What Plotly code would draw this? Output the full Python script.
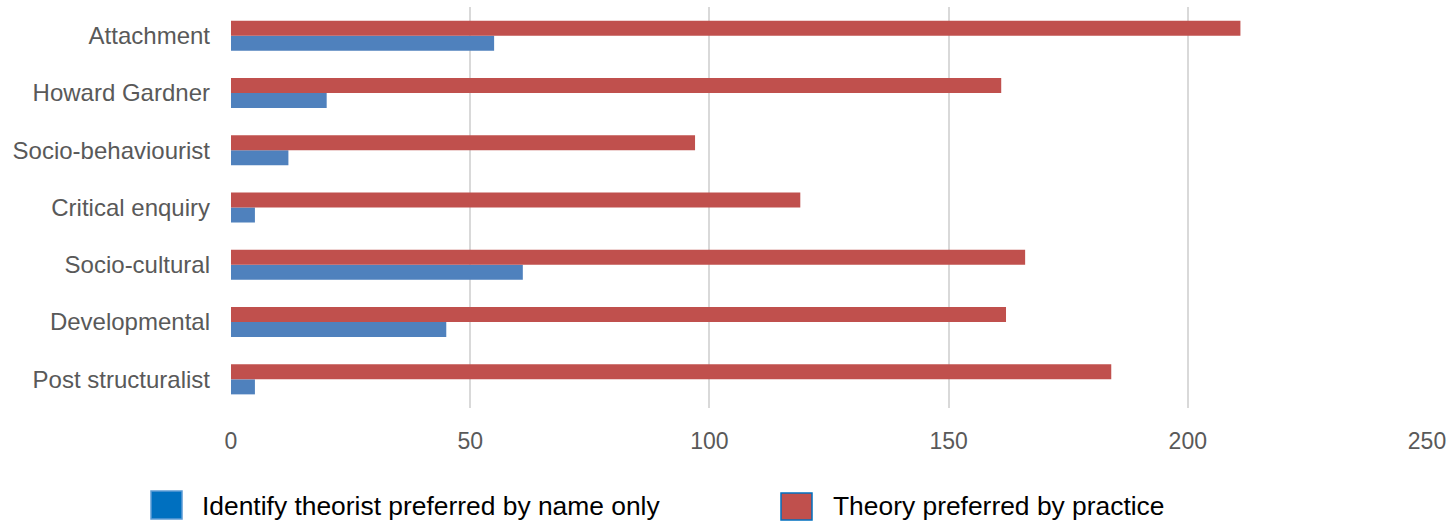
import plotly.graph_objects as go

# Categories listed bottom-to-top as they appear on the y axis
categories = [
    "Post structuralist",
    "Developmental",
    "Socio-cultural",
    "Critical enquiry",
    "Socio-behaviourist",
    "Howard Gardner",
    "Attachment",
]
name_only = [5, 45, 61, 5, 12, 20, 55]
by_practice = [184, 162, 166, 119, 97, 161, 211]

series_names = ["Identify theorist preferred by name only", "Theory preferred by practice"]
x_ticks = [0, 50, 100, 150, 200, 250]

BLUE = "#4F81BD"
RED = "#C0504D"
W, H = 1456, 522
L, R, T, B = 231, 29, 7, 114
FONT = "Liberation Sans, Arial, sans-serif"

fig = go.Figure()
fig.add_trace(go.Bar(y=categories, x=name_only, orientation="h", name=series_names[0],
                     marker=dict(color=BLUE, line=dict(width=0))))
fig.add_trace(go.Bar(y=categories, x=by_practice, orientation="h", name=series_names[1],
                     marker=dict(color=RED, line=dict(width=0))))

# Legend drawn as large swatches below the plot area
pw, ph = W - L - R, H - T - B


def px(xp):
    return (xp - L) / pw


def py(yp):
    return (H - B - yp) / ph


swatches = [
    dict(x0=151, x1=182, y0=491, y1=519, fill="#0070C0", line="#5B9BD5", text_x=200),
    dict(x0=781, x1=812, y0=493, y1=520, fill=RED, line="#0070C0", text_x=831),
]
shapes = []
annotations = []
for sw, label in zip(swatches, series_names):
    shapes.append(dict(type="rect", xref="paper", yref="paper",
                       x0=px(sw["x0"]), x1=px(sw["x1"]), y0=py(sw["y1"]), y1=py(sw["y0"]),
                       fillcolor=sw["fill"], line=dict(color=sw["line"], width=1.5)))
    annotations.append(dict(xref="paper", yref="paper", x=px(sw["text_x"]),
                            y=py(506), xanchor="left", yanchor="middle",
                            text=label, showarrow=False,
                            font=dict(family=FONT, size=26.4, color="#000000")))

fig.update_layout(
    width=W, height=H,
    margin=dict(l=L, r=R, t=T, b=B),
    barmode="group",
    bargap=0.476,
    bargroupgap=0,
    plot_bgcolor="white",
    paper_bgcolor="white",
    showlegend=False,
    shapes=shapes,
    annotations=annotations,
    font=dict(family=FONT, size=23, color="#595959"),
)
fig.update_xaxes(
    range=[0, 250], tickvals=x_ticks, showgrid=True, gridcolor="#D9D9D9", gridwidth=2,
    zeroline=False, showline=False, ticks="", ticklabelstandoff=17,
    tickfont=dict(family=FONT, size=23, color="#595959"),
)
fig.update_yaxes(
    categoryorder="array", categoryarray=categories, showgrid=False, zeroline=False,
    showline=False, ticks="", ticklabelstandoff=20,
    tickfont=dict(family=FONT, size=24, color="#595959"),
)

fig.write_html("out.html")
